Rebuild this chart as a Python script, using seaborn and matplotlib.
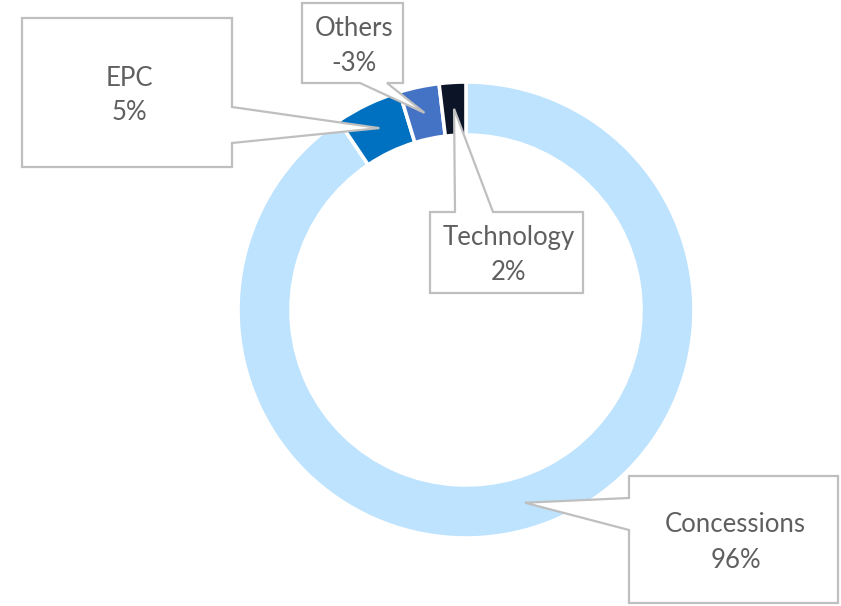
import numpy as np
import matplotlib
matplotlib.use("Agg")
import matplotlib.pyplot as plt
import seaborn as sns
from matplotlib.patches import Polygon

# ── Data ──────────────────────────────────────────────────────────────────────
labels = ["Concessions", "EPC", "Others", "Technology"]
shares = [96, 5, -3, 2]  # % contribution, the negative one is drawn by its size
colors = ["#BDE3FE", "#0070C0", "#4472C4", "#0C1428"]

W, H = 841, 606
CENTER = (466, H - 310)
RADIUS = 228
RING = 53

sns.set_theme(style="white")
plt.rcParams["font.family"] = ["Lato", "DejaVu Sans"]

fig = plt.figure(figsize=(W / 100, H / 100), dpi=100)
ax = fig.add_axes([0, 0, 1, 1])

sizes = np.abs(shares)
wedges, _ = ax.pie(
    sizes,
    colors=colors,
    startangle=90,
    counterclock=False,
    radius=RADIUS,
    center=CENTER,
    wedgeprops=dict(width=RING, edgecolor="white", linewidth=2.6),
)
ax.set_xlim(0, W)
ax.set_ylim(0, H)
ax.set_aspect("equal")
ax.axis("off")


def flip(pts):
    # pixel coords (top-left origin) -> data coords
    return [(x, H - y) for x, y in pts]


def tip_of(wedge, r=RADIUS - RING / 2):
    mid = np.deg2rad((wedge.theta1 + wedge.theta2) / 2)
    return (CENTER[0] + r * np.cos(mid), H - (CENTER[1] + r * np.sin(mid)))


# callout boxes: rectangle (x0, y0, x1, y1) in pixels, pointer side and base points
boxes = {
    "Concessions": ((629, 476, 838, 603), "left", (498, 530)),
    "EPC": ((22, 18, 232, 167), "right", (107, 143)),
    "Others": ((302, 3, 403, 83), "bottom", (360, 387)),
    "Technology": ((430, 212, 583, 293), "top", (455, 493)),
}

for wedge, lab, val in zip(wedges, labels, shares):
    (x0, y0, x1, y1), side, (b0, b1) = boxes[lab]
    t = tip_of(wedge)
    if side == "left":
        pts = [(x0, y0), (x1, y0), (x1, y1), (x0, y1), (x0, b1), t, (x0, b0)]
    elif side == "right":
        pts = [(x0, y0), (x1, y0), (x1, b0), t, (x1, b1), (x1, y1), (x0, y1)]
    elif side == "bottom":
        pts = [(x0, y0), (x1, y0), (x1, y1), (b1, y1), t, (b0, y1), (x0, y1)]
    else:
        pts = [(x0, y0), (b0, y0), t, (b1, y0), (x1, y0), (x1, y1), (x0, y1)]
    ax.add_patch(Polygon(flip(pts), closed=True, facecolor="white",
                         edgecolor="#BFBFBF", linewidth=1.6, zorder=3))
    ax.text((x0 + x1) / 2 + 2, H - (y0 + y1) / 2 - 3, f"{lab}\n{val}%",
            ha="center", va="center", fontsize=18.5, color="#5F5F5F",
            linespacing=1.5, zorder=4)

fig.savefig("out.png", dpi=100)
